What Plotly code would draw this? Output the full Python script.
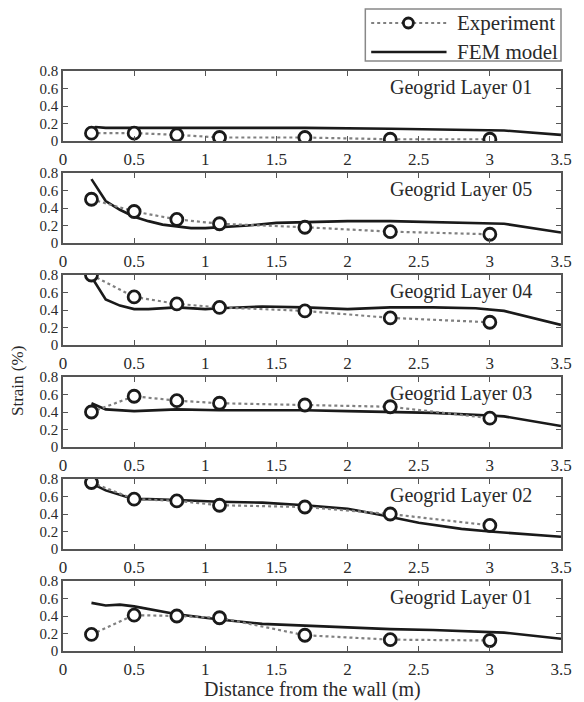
import plotly.graph_objects as go
from plotly.subplots import make_subplots

# ---- data ----
exp_x = [0.2, 0.5, 0.8, 1.1, 1.7, 2.3, 3.0]

panel_titles = ["Geogrid Layer 01", "Geogrid Layer 05", "Geogrid Layer 04",
                "Geogrid Layer 03", "Geogrid Layer 02", "Geogrid Layer 01"]

exp_top01 = [0.09, 0.09, 0.07, 0.04, 0.04, 0.02, 0.02]
exp_l05 = [0.50, 0.36, 0.27, 0.22, 0.18, 0.13, 0.10]
exp_l04 = [0.80, 0.55, 0.47, 0.43, 0.39, 0.31, 0.26]
exp_l03 = [0.40, 0.58, 0.53, 0.50, 0.48, 0.46, 0.33]
exp_l02 = [0.76, 0.57, 0.55, 0.50, 0.48, 0.40, 0.27]
exp_l01 = [0.19, 0.41, 0.40, 0.38, 0.18, 0.13, 0.12]

fem_top01_x = [0.2, 0.23, 0.3, 0.5, 0.8, 1.1, 1.7, 2.3, 3.0, 3.1, 3.5]
fem_top01_y = [0.12, 0.16, 0.15, 0.15, 0.15, 0.15, 0.15, 0.14, 0.13, 0.12, 0.07]

fem_l05_x = [0.2, 0.3, 0.4, 0.5, 0.6, 0.7, 0.8, 0.9, 1.0, 1.1, 1.3, 1.5, 1.7, 2.0, 2.3, 2.6, 3.0, 3.1, 3.5]
fem_l05_y = [0.73, 0.48, 0.38, 0.30, 0.25, 0.21, 0.19, 0.17, 0.17, 0.18, 0.20, 0.23, 0.24, 0.25, 0.25, 0.24, 0.23, 0.22, 0.12]

fem_l04_x = [0.2, 0.3, 0.4, 0.5, 0.6, 0.8, 1.0, 1.1, 1.4, 1.7, 2.0, 2.3, 2.6, 2.9, 3.1, 3.5]
fem_l04_y = [0.78, 0.52, 0.45, 0.41, 0.41, 0.43, 0.41, 0.42, 0.44, 0.43, 0.41, 0.43, 0.43, 0.42, 0.39, 0.23]

fem_l03_x = [0.2, 0.3, 0.5, 0.8, 1.1, 1.7, 2.0, 2.3, 2.6, 3.0, 3.1, 3.5]
fem_l03_y = [0.50, 0.43, 0.41, 0.43, 0.42, 0.42, 0.41, 0.40, 0.39, 0.36, 0.35, 0.24]

fem_l02_x = [0.2, 0.3, 0.5, 0.6, 0.8, 1.1, 1.4, 1.7, 2.0, 2.2, 2.5, 2.8, 3.0, 3.5]
fem_l02_y = [0.75, 0.67, 0.57, 0.57, 0.56, 0.54, 0.53, 0.50, 0.46, 0.40, 0.30, 0.23, 0.20, 0.14]

fem_l01_x = [0.2, 0.3, 0.4, 0.5, 0.8, 1.1, 1.4, 1.7, 2.0, 2.3, 2.6, 3.0, 3.1, 3.5]
fem_l01_y = [0.55, 0.52, 0.53, 0.51, 0.42, 0.36, 0.31, 0.29, 0.27, 0.25, 0.24, 0.22, 0.21, 0.14]

exp_series = [exp_top01, exp_l05, exp_l04, exp_l03, exp_l02, exp_l01]
fem_series = [(fem_top01_x, fem_top01_y), (fem_l05_x, fem_l05_y), (fem_l04_x, fem_l04_y),
              (fem_l03_x, fem_l03_y), (fem_l02_x, fem_l02_y), (fem_l01_x, fem_l01_y)]

x_ticks = [0, 0.5, 1, 1.5, 2, 2.5, 3, 3.5]
y_ticks = [0, 0.2, 0.4, 0.6, 0.8]
y_ticktext = ["0", "0.2", "0.4", "0.6", "0.8"]
legend_names = ["Experiment", "FEM model"]

# ---- figure ----
W, H = 584, 702
ml, mr, mt, mb = 63, 12, 71, 51
pw, ph = W - ml - mr, H - mt - mb
gap = 32
FONT = "Liberation Serif"
INK = "#1a1a1a"
TXT = "#2a2a2a"
FRAME = "#555555"
EXP_LINE = "#808080"


def px_x(p):
    return (p - ml) / pw


def px_y(p):
    return 1 - (p - mt) / ph


fig = make_subplots(rows=6, cols=1, vertical_spacing=gap / ph)

for i in range(6):
    r = i + 1
    fx, fy = fem_series[i]
    fig.add_trace(go.Scatter(
        x=fx, y=fy, mode="lines", name=legend_names[1],
        line=dict(color=INK, width=2.6), showlegend=False), row=r, col=1)
    fig.add_trace(go.Scatter(
        x=exp_x, y=exp_series[i], mode="lines+markers", name=legend_names[0],
        line=dict(color=EXP_LINE, width=2.2, dash="dot"),
        marker=dict(symbol="circle", size=12, color="white",
                    line=dict(color=INK, width=2.8)),
        showlegend=False), row=r, col=1)
    xname = "x" if r == 1 else f"x{r}"
    yname = "y" if r == 1 else f"y{r}"
    fig.add_annotation(
        text=panel_titles[i], xref=f"{xname} domain", yref=f"{yname} domain",
        x=0.945, y=0.76, xanchor="right", yanchor="middle", showarrow=False,
        font=dict(family=FONT, size=20, color=TXT))

fig.update_xaxes(range=[0, 3.5], tickvals=x_ticks, ticks="inside", ticklen=5,
                 tickcolor=FRAME, showline=True, linecolor=FRAME, linewidth=1.5,
                 mirror="ticks", showgrid=False, zeroline=False,
                 tickfont=dict(family=FONT, size=17, color=TXT),
                 ticklabelstandoff=2)
fig.update_yaxes(range=[0, 0.8], tickvals=y_ticks, ticktext=y_ticktext,
                 ticks="inside", ticklen=5,
                 tickcolor=FRAME, showline=True, linecolor=FRAME, linewidth=1.5,
                 mirror="ticks", showgrid=False, zeroline=False,
                 tickfont=dict(family=FONT, size=15, color=TXT))

fig.add_annotation(text="Strain (%)", xref="paper", yref="paper",
                   x=px_x(16), y=px_y(381),
                   xanchor="center", yanchor="middle", textangle=-90, showarrow=False,
                   font=dict(family=FONT, size=17, color=TXT))
fig.add_annotation(text="Distance from the wall (m)", xref="paper", yref="paper",
                   x=px_x(318), y=px_y(689),
                   xanchor="center", yanchor="middle", showarrow=False,
                   font=dict(family=FONT, size=20, color=TXT))

# ---- legend (drawn as a boxed key) ----
fig.add_shape(type="rect", xref="paper", yref="paper",
              x0=px_x(372), x1=px_x(572), y0=px_y(61), y1=px_y(9),
              line=dict(color="#888888", width=1.5), fillcolor="white")
fig.add_shape(type="line", xref="paper", yref="paper",
              x0=px_x(378), x1=px_x(455), y0=px_y(23), y1=px_y(23),
              line=dict(color=EXP_LINE, width=2.2, dash="dot"))
fig.add_shape(type="circle", xref="paper", yref="paper",
              xsizemode="pixel", ysizemode="pixel",
              xanchor=px_x(416), yanchor=px_y(23), x0=-5, x1=5, y0=-5, y1=5,
              line=dict(color=INK, width=2.8), fillcolor="white")
fig.add_shape(type="line", xref="paper", yref="paper",
              x0=px_x(378), x1=px_x(455), y0=px_y(52), y1=px_y(52),
              line=dict(color=INK, width=2.6))
for name, yy in zip(legend_names, [23, 52]):
    fig.add_annotation(text=name, xref="paper", yref="paper",
                       x=px_x(464), y=px_y(yy), xanchor="left", yanchor="middle",
                       showarrow=False, font=dict(family=FONT, size=21, color=TXT))

fig.update_layout(
    width=W, height=H,
    margin=dict(l=ml, r=mr, t=mt, b=mb),
    paper_bgcolor="white", plot_bgcolor="white",
    showlegend=False,
)

fig.write_html("out.html")
